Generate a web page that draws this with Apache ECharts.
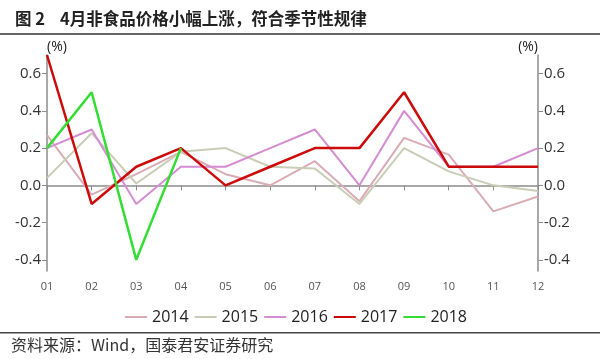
<!DOCTYPE html>
<html><head><meta charset="utf-8">
<script src="https://cdn.jsdelivr.net/npm/echarts@6/dist/echarts.min.js"></script>
<style>
html,body{margin:0;padding:0;background:#fff;}
#c{width:600px;height:359px;}
</style></head>
<body><div id="c"></div>
<script>
const categories = ['01','02','03','04','05','06','07','08','09','10','11','12'];
const s2014 = [0.27,-0.05,0.06,0.18,0.06,0.0,0.13,-0.085,0.255,0.165,-0.14,-0.06];
const s2015 = [0.04,0.28,0.01,0.18,0.2,0.1,0.09,-0.1,0.2,0.075,0.0,-0.03];
const s2016 = [0.2,0.3,-0.1,0.1,0.1,0.2,0.3,0.0,0.4,0.1,0.1,0.2];
const s2017 = [0.7,-0.1,0.1,0.2,0.0,0.1,0.2,0.2,0.5,0.1,0.1,0.1];
const s2018 = [0.2,0.5,-0.4,0.2];
const seriesNames = ['2014','2015','2016','2017','2018'];
const yTicks = [-0.4,-0.2,0,0.2,0.4,0.6];

const colors = ['#d9acb6','#c9cdb6','#d48cd2','#cc0a0a','#33dd33'];
const widths = [2,2,2,2.5,2.5];
const data = [s2014,s2015,s2016,s2017,s2018];

function yAxisCfg(pos){
  return {
    type:'value', position:pos, min:-0.46, max:0.7,
    name:'(%)', nameLocation:'end', nameGap:8,
    nameTextStyle:{fontSize:14, color:'#222', align: pos==='left'?'left':'right', verticalAlign:'middle', fontFamily:'Open Sans'},
    axisLine:{show:true, lineStyle:{color:'#8c8c8c', width:1.5}},
    axisTick:{show:true, customValues:yTicks, length:5, lineStyle:{color:'#8c8c8c'}},
    axisLabel:{customValues:yTicks, fontSize:15, color:'#333', fontFamily:'Open Sans', margin:6,
      formatter:v=>v.toFixed(1)},
    splitLine:{show:false}
  };
}

const chart = echarts.init(document.getElementById('c'));
chart.setOption({
  animation:false,
  title:{text:'图 2    4月非食品价格小幅上涨，符合季节性规律', left:10, top:5,
    textStyle:{fontSize:16.5, fontWeight:'bold', color:'#222', fontFamily:'Noto Sans CJK SC'}},
  grid:{left:47, right:62, top:55, bottom:88},
  legend:{data:seriesNames, left:120, top:304, icon:'rect', itemWidth:22, itemHeight:2, itemGap:6,
    textStyle:{fontSize:16, color:'#222', fontFamily:'Open Sans'}},
  xAxis:{type:'category', data:categories, boundaryGap:false,
    axisLine:{lineStyle:{color:'#8c8c8c', width:1.5}},
    axisTick:{length:5, lineStyle:{color:'#8c8c8c'}},
    axisLabel:{fontSize:11, color:'#555', margin:10, fontFamily:'Open Sans'}},
  yAxis:[yAxisCfg('left'), yAxisCfg('right')],
  series: seriesNames.map((n,i)=>({
    name:n, type:'line', data:data[i], showSymbol:false, symbol:'none',
    color:colors[i], lineStyle:{width:widths[i], color:colors[i]}, z: i+2
  })),
  graphic:[
    {type:'rect', shape:{x:0,y:33,width:600,height:2}, style:{fill:'#666'}},
    {type:'rect', shape:{x:0,y:332,width:600,height:1.5}, style:{fill:'#444'}},
    {type:'text', left:11, top:337, style:{text:'资料来源：Wind，国泰君安证券研究', fontSize:16, fill:'#333', fontFamily:'Noto Sans CJK SC'}}
  ]
});
</script></body></html>
